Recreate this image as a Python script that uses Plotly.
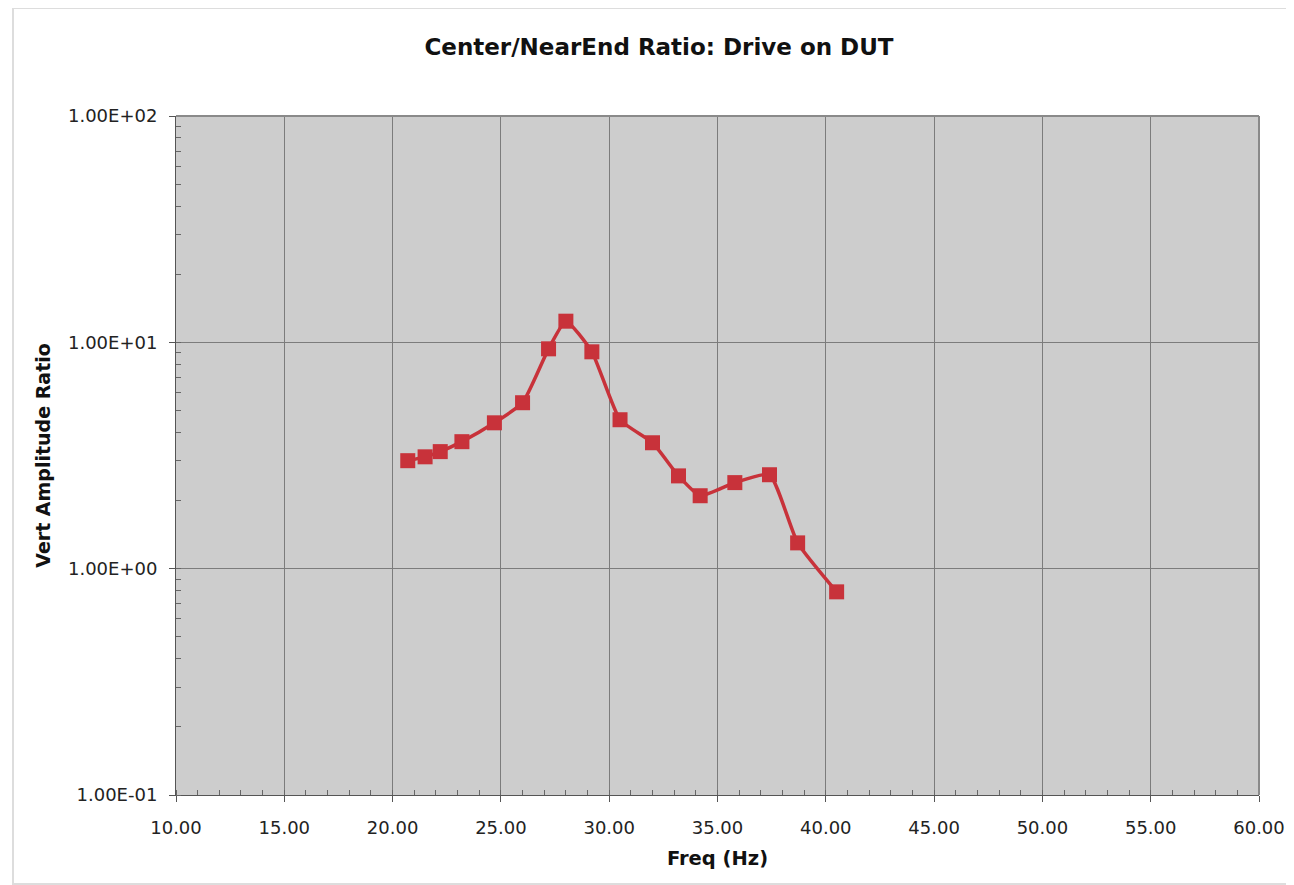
import plotly.graph_objects as go

# Center/NearEnd amplitude ratio vs drive frequency
freq_hz = [20.7, 21.5, 22.2, 23.2, 24.7, 26.0, 27.2, 28.0, 29.2,
           30.5, 32.0, 33.2, 34.2, 35.8, 37.4, 38.7, 40.5]
amp_ratio = [3.0, 3.12, 3.29, 3.64, 4.41, 5.41, 9.36, 12.4, 9.08,
             4.55, 3.6, 2.57, 2.1, 2.4, 2.6, 1.30, 0.79]

x_ticks = [10, 15, 20, 25, 30, 35, 40, 45, 50, 55, 60]
y_ticks = [0.1, 1, 10, 100]
y_tick_text = ["1.00E-01", "1.00E+00", "1.00E+01", "1.00E+02"]

RED = "#c8323a"
FONT = "DejaVu Sans"

fig = go.Figure()
fig.add_trace(go.Scatter(
    x=freq_hz, y=amp_ratio,
    mode="lines+markers",
    line=dict(color=RED, width=3.5, shape="spline", smoothing=0.5),
    marker=dict(symbol="square", size=15, color=RED),
    showlegend=False,
))

# the page body adds an 8px offset, margins are set to compensate
fig.update_layout(
    width=1294, height=885,
    margin=dict(l=168, r=43, t=108, b=98),
    paper_bgcolor="white",
    plot_bgcolor="#cdcdcd",
    font=dict(family=FONT, size=18, color="#222"),
    title=dict(
        text="<b>Center/NearEnd Ratio: Drive on DUT</b>",
        x=651 / 1294, xanchor="center", xref="container",
        y=1 - 39 / 885, yref="container", yanchor="middle",
        font=dict(size=23, color="#111"),
    ),
    shapes=[dict(
        type="rect", xref="paper", yref="paper",
        x0=-0.1505, x1=1.031, y0=-0.131, y1=1.159,
        line=dict(color="#dddddd", width=2), layer="below",
    )],
)

fig.update_xaxes(
    range=[10, 60], tickvals=x_ticks, tickformat=".2f",
    showgrid=True, gridcolor="#7c7c7c", gridwidth=1,
    showline=True, linecolor="#555", linewidth=1, mirror=False,
    ticks="outside", ticklen=6, tickcolor="#555", ticklabelstandoff=10,
    minor=dict(ticks="inside", ticklen=5, tickcolor="#666", dtick=1, showgrid=False),
    zeroline=False,
    title=dict(text="<b>Freq (Hz)</b>", font=dict(size=19.5, color="#111"), standoff=14),
)
fig.update_yaxes(
    type="log", range=[-1, 2], tickvals=y_ticks, ticktext=y_tick_text,
    showgrid=True, gridcolor="#7c7c7c", gridwidth=1,
    showline=True, linecolor="#555", linewidth=1,
    ticks="outside", ticklen=6, tickcolor="#555", ticklabelstandoff=8,
    minor=dict(ticks="inside", ticklen=5, tickcolor="#666", dtick="D1", showgrid=False),
    zeroline=False,
    title=dict(text="<b>Vert Amplitude Ratio</b>", font=dict(size=19, color="#111"), standoff=12),
)

# top and right border of the plotting area
fig.add_shape(type="line", xref="paper", yref="paper", x0=0, x1=1, y0=1, y1=1,
              line=dict(color="#8a8a8a", width=2))
fig.add_shape(type="line", xref="paper", yref="paper", x0=1, x1=1, y0=0, y1=1,
              line=dict(color="#8a8a8a", width=2))

fig.write_html("out.html")
